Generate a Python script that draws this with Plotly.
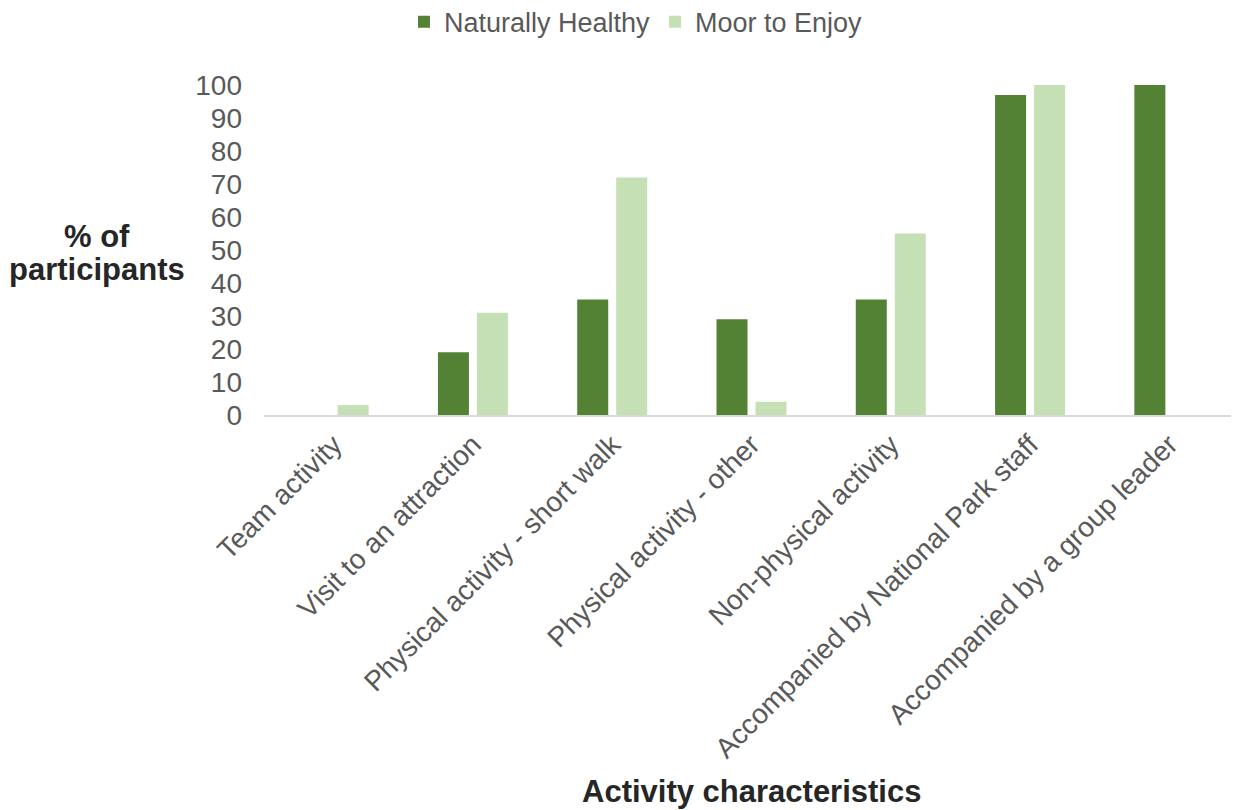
import plotly.graph_objects as go

categories = ["Team activity", "Visit to an attraction", "Physical activity - short walk",
              "Physical activity - other", "Non-physical activity",
              "Accompanied by National Park staff", "Accompanied by a group leader"]
naturally_healthy = [0, 19, 35, 29, 35, 97, 100]
moor_to_enjoy = [3, 31, 72, 4, 55, 100, 0]
y_ticks = [0, 10, 20, 30, 40, 50, 60, 70, 80, 90, 100]

FONT = "Liberation Sans, Arial, sans-serif"
GRAY = "#595959"

fig = go.Figure()
fig.add_trace(go.Bar(name="Naturally Healthy", x=categories, y=naturally_healthy,
                     marker=dict(color="#548235", line=dict(width=0))))
fig.add_trace(go.Bar(name="Moor to Enjoy", x=categories, y=moor_to_enjoy,
                     marker=dict(color="#C5E0B4", line=dict(width=0))))

fig.update_layout(
    width=1239, height=810,
    margin=dict(l=256, r=8, t=77, b=403, autoexpand=False),
    plot_bgcolor="white", paper_bgcolor="white",
    barmode="group", bargap=0.44, bargroupgap=0.205,
    font=dict(family=FONT, size=28, color=GRAY),
    showlegend=True,
    legend=dict(orientation="h", x=0.3815, xanchor="center", y=1.19, yanchor="middle",
                font=dict(size=27, color=GRAY), itemwidth=30, traceorder="normal"),
    xaxis=dict(tickangle=-45, showline=True, linecolor="#d9d9d9", linewidth=2,
               ticks="", showgrid=False, automargin=False,
               tickfont=dict(size=28, color=GRAY)),
    yaxis=dict(range=[0, 100], tickvals=y_ticks, showgrid=False, zeroline=False,
               showline=False, ticks="", automargin=False, ticklabelstandoff=21,
               tickfont=dict(size=28, color=GRAY)),
    annotations=[
        dict(text="<b>% of</b>", xref="paper", yref="paper",
             x=-0.1713, y=0.5394, xanchor="center", yanchor="middle", showarrow=False,
             font=dict(size=31, color="#262626", family=FONT)),
        dict(text="<b>participants</b>", xref="paper", yref="paper",
             x=-0.1713, y=0.4394, xanchor="center", yanchor="middle", showarrow=False,
             font=dict(size=31, color="#262626", family=FONT)),
        dict(text="<b>Activity characteristics</b>", xref="paper", yref="paper",
             x=0.4995, y=-1.142, xanchor="center", yanchor="middle", showarrow=False,
             font=dict(size=31, color="#262626", family=FONT)),
    ],
)

fig.write_html("out.html")
